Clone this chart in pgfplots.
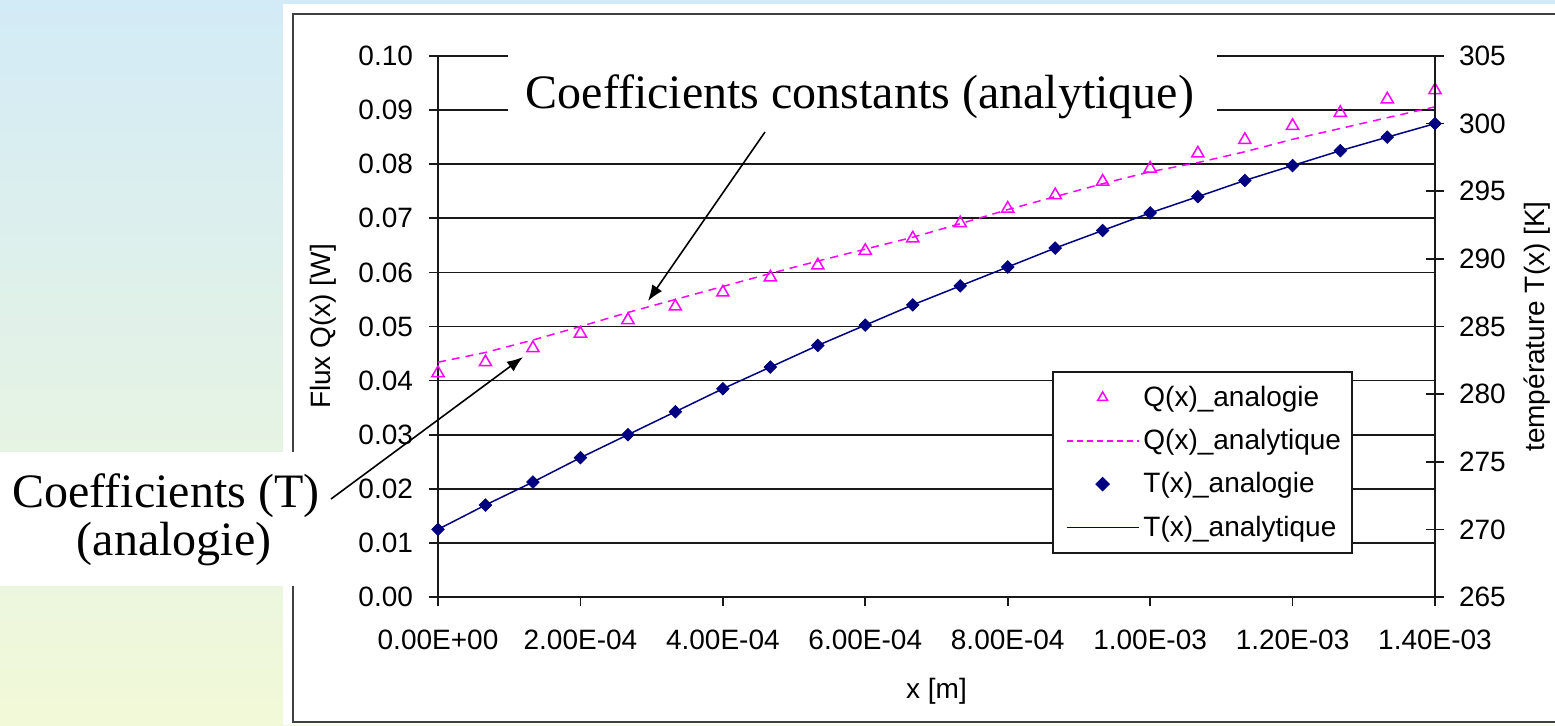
\documentclass[border=0pt]{standalone}
\usepackage{fontspec}
\setmainfont{Liberation Sans}
\newfontfamily\timesfont{Liberation Serif}
\usepackage{pgfplots}
\usepackage{pgfplotstable}
\pgfplotsset{compat=1.18}
\usetikzlibrary{arrows.meta}
\definecolor{navyT}{RGB}{0,0,128}
\definecolor{magQ}{RGB}{255,0,255}
\definecolor{bgtop}{RGB}{211,235,247}
\definecolor{bgbot}{RGB}{242,249,216}
\definecolor{axcol}{RGB}{25,25,25}

\pgfplotstableread{
x Qa Qt T
0         0.0414 0.0434 270.0
6.667e-5  0.0434 0.0452 271.8
1.333e-4  0.0460 0.0475 273.5
2.000e-4  0.0487 0.0500 275.3
2.667e-4  0.0512 0.0526 277.0
3.333e-4  0.0537 0.0550 278.7
4.000e-4  0.0563 0.0574 280.4
4.667e-4  0.0591 0.0598 282.0
5.333e-4  0.0613 0.0621 283.6
6.000e-4  0.0640 0.0643 285.1
6.667e-4  0.0663 0.0665 286.6
7.333e-4  0.0691 0.0690 288.0
8.000e-4  0.0718 0.0716 289.4
8.667e-4  0.0743 0.0740 290.8
9.333e-4  0.0768 0.0764 292.1
1.000e-3  0.0792 0.0786 293.4
1.067e-3  0.0820 0.0803 294.6
1.133e-3  0.0845 0.0823 295.8
1.200e-3  0.0871 0.0846 296.9
1.267e-3  0.0895 0.0866 298.0
1.333e-3  0.0920 0.0886 299.0
1.400e-3  0.0937 0.0906 300.0
}\data

\begin{document}
\begin{tikzpicture}[x=0.5pt,y=0.5pt,font=\fontsize{14}{16}\selectfont]
\useasboundingbox (0,0) rectangle (1555,725);
\shade[top color=bgtop, bottom color=bgbot] (0,0) rectangle (1555,725);
\fill[white] (283,0) rectangle (1555,721);
\draw[line width=0.8pt, black!75] (293,3) rectangle (1562,711);

\begin{axis}[
  at={(219pt,64pt)}, anchor=south west, scale only axis,
  width=498.5pt, height=270.5pt,
  xmin=0, xmax=1.4e-3, ymin=0, ymax=0.1,
  axis x line*=bottom, axis y line*=left,
  axis line style={axcol, line width=0.85pt, -},
  xtick={0,2e-4,4e-4,6e-4,8e-4,1e-3,1.2e-3,1.4e-3},
  xticklabels={0.00E+00,2.00E-04,4.00E-04,6.00E-04,8.00E-04,1.00E-03,1.20E-03,1.40E-03},
  ytick={0,0.01,0.02,0.03,0.04,0.05,0.06,0.07,0.08,0.09,0.1},
  yticklabels={0.00,0.01,0.02,0.03,0.04,0.05,0.06,0.07,0.08,0.09,0.10},
  xticklabel style={yshift=-8.5pt},
  yticklabel style={xshift=-4.5pt},
  scaled x ticks=false, scaled y ticks=false,
  tick align=outside, major tick length=4.5pt,
  tick style={axcol, line width=0.85pt},
  ymajorgrids, major grid style={axcol, line width=0.85pt},
  xlabel={x [m]}, ylabel={Flux Q(x) [W]},
  xlabel style={at={(axis description cs:0.5,-0.175)}, anchor=center},
  ylabel style={at={(axis description cs:-0.1153,0.5)}, anchor=center},
  clip=false,
]
\addplot[magQ, line width=0.75pt, dash pattern=on 4pt off 3pt] table[x=x, y=Qt] {\data};
\addplot[only marks, mark=triangle, mark size=3.5pt, mark options={draw=magQ, fill=none, line width=0.75pt, solid}] table[x=x, y=Qa] {\data};
\end{axis}

\begin{axis}[
  at={(219pt,64pt)}, anchor=south west, scale only axis,
  width=498.5pt, height=270.5pt,
  xmin=0, xmax=1.4e-3, ymin=265, ymax=305,
  axis x line=none, axis y line*=right,
  axis line style={axcol, line width=0.85pt, -},
  ytick={265,270,275,280,285,290,295,300,305},
  yticklabels={265,270,275,280,285,290,295,300,305},
  yticklabel style={xshift=4pt},
  scaled x ticks=false,
  tick align=center, major tick length=9pt,
  tick style={axcol, line width=0.85pt},
  ylabel={température T(x) [K]},
  ylabel style={at={(axis description cs:1.1023,0.5)}, anchor=center},
  clip=false,
  legend image code/.code={\path (-3pt,0pt); \draw[mark repeat=2,mark phase=2,#1] plot coordinates {(0pt,0pt) (18pt,0pt) (36pt,0pt)};},
  legend cell align=left,
  legend style={at={(0.6158,0.4177)}, anchor=north west, draw=axcol, line width=0.85pt, fill=white,
     font=\fontsize{14}{16}\selectfont, inner xsep=3.5pt, inner ysep=5pt, row sep=6pt},
]
\addlegendimage{only marks, mark=triangle, mark size=2.8pt, mark options={draw=magQ, fill=none, line width=0.75pt, solid}}
\addlegendentry{Q(x)\_analogie}
\addlegendimage{magQ, line width=0.75pt, dash pattern=on 3pt off 2pt}
\addlegendentry{Q(x)\_analytique}
\addplot[navyT, line width=0.75pt, forget plot] table[x=x, y=T] {\data};
\addplot[only marks, mark=square*, mark size=2.2pt, mark options={fill=navyT, draw=navyT, rotate=45}] table[x=x, y=T] {\data};
\addlegendentry{T(x)\_analogie}
\addlegendimage{navyT, line width=0.75pt}
\addlegendentry{T(x)\_analytique}
\end{axis}

% annotations
\fill[white] (508,599) rectangle (1217,683);
\node[anchor=base, inner sep=0pt, font=\timesfont\fontsize{24}{28}\selectfont] at (860,617) {Coefficients constants (analytique)};
\draw[line width=0.8pt, -{Latex[length=8pt,width=6pt]}] (765,593) -- (648,424);

\fill[white] (0,139) rectangle (332,273);
\node[anchor=base, inner sep=0pt, font=\timesfont\fontsize{24}{28}\selectfont] at (166,218) {Coefficients (T)};
\node[anchor=base, inner sep=0pt, font=\timesfont\fontsize{24}{28}\selectfont] at (174,170) {(analogie)};
\draw[line width=0.8pt, -{Latex[length=8pt,width=6pt]}] (331,226) -- (523,368);
\end{tikzpicture}
\end{document}
